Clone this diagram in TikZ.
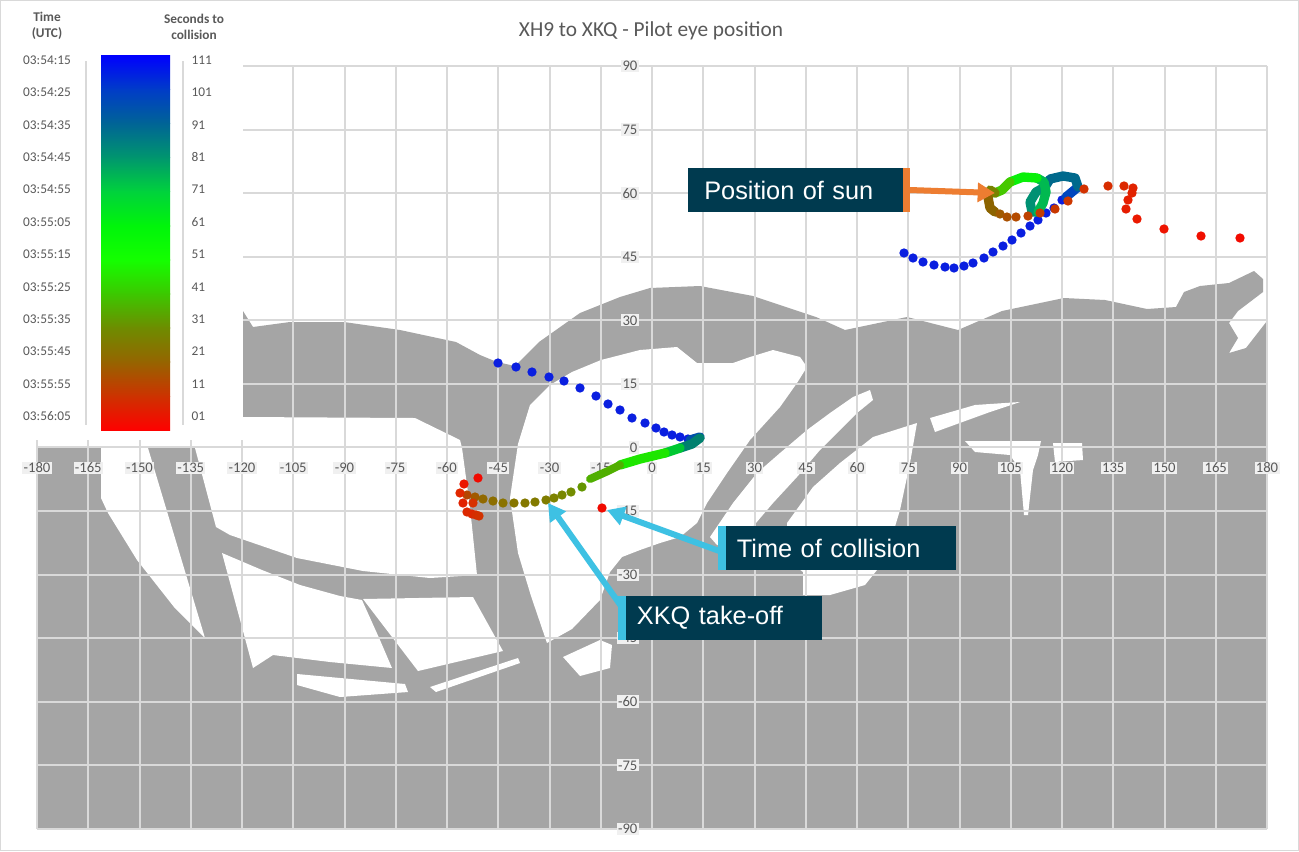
\documentclass[tikz,border=0pt]{standalone}
\usepackage{fontspec}
\setmainfont{Carlito}
\newfontfamily\arialf{Liberation Sans}
\usetikzlibrary{arrows.meta}
\definecolor{gry}{HTML}{A5A5A5}
\definecolor{grd}{HTML}{D9D9D9}
\definecolor{txt}{HTML}{595959}
\definecolor{boxc}{HTML}{003A4F}
\definecolor{cyanc}{HTML}{3EC1E3}
\definecolor{orc}{HTML}{ED7D31}
\definecolor{bl}{HTML}{0A1FE0}
\tikzset{
 hole/.style={fill=white},
 tick/.style={font=\fontsize{11}{12}\selectfont, text=txt, fill=white!94!black, inner sep=1pt},
 leg/.style={font=\fontsize{10}{11}\selectfont, text=txt},
 lbl/.style={fill=boxc, text=white, font=\arialf\fontsize{19}{21}\selectfont, anchor=west, minimum height=33pt, inner xsep=12pt, align=left},
 dot/.style={circle, inner sep=0pt, minimum size=7pt},
 thick track/.style={line width=7pt, line cap=round, line join=round},
 carrow/.style={draw=cyanc, line width=4.5pt, -{Triangle[length=13pt,width=14pt]}},
 oarrow/.style={draw=orc, line width=4.5pt, -{Triangle[length=13pt,width=14pt]}}
}
\begin{document}
\begin{tikzpicture}[x=0.75pt,y=-0.75pt]
\useasboundingbox (0,0) rectangle (1299,851);
\fill[white] (0,0) rectangle (1299,851);
% grey silhouette
\fill[gry] (243,311) -- (253,327) -- (290,322) -- (344,322) -- (400,330) -- (456,342) -- (480,355) -- (497,362) -- (515,366) -- (539,342) -- (580,313) -- (620,297) -- (650,288) -- (700,286) -- (753,296) -- (816,317) -- (845,330) -- (907,317) -- (958,330) -- (1002,311) -- (1064,298) -- (1105,300) -- (1147,309) -- (1176,307) -- (1184,292) -- (1200,286) -- (1229,283) -- (1254,271) -- (1263,279) -- (1263,292) -- (1238,311) -- (1229,323) -- (1238,338) -- (1229,353) -- (1246,348) -- (1267,321) -- (1267,829) -- (37,829) -- (37,448) -- (243,448) -- cycle;
% holes
\fill[hole] (243,417) -- (415,418) -- (460,440) -- (462,448) -- (243,448) -- cycle;
\fill[hole] (101,448) -- (148,448) -- (205,638) -- (174,607) -- (137,560) -- (108,513) -- (101,498) -- cycle;
\fill[hole] (195,448) -- (462,448) -- (470,507) -- (477,575) -- (430,578) -- (363,571) -- (297,558) -- (230,535) -- (216,527) -- cycle;
\fill[hole] (222,553) -- (262,570) -- (300,585) -- (340,596) -- (362,600) -- (380,640) -- (392,668) -- (330,662) -- (273,655) -- (253,668) -- cycle;
\fill[hole] (363,599) -- (473,597) -- (503,651) -- (418,671) -- cycle;
\fill[hole] (297,674) -- (405,684) -- (408,692) -- (340,697) -- (297,685) -- cycle;
\fill[hole] (430,687) -- (518,658) -- (520,663) -- (436,692) -- cycle;
\fill[hole] (563,657) -- (600,640) -- (612,645) -- (610,668) -- (580,676) -- cycle;
\fill[hole] (518,444) -- (530,405) -- (550,385) -- (572,372) -- (601,360) -- (640,350) -- (677,347) -- (697,363) -- (733,363) -- (750,357) -- (773,350) -- (800,357) -- (807,367) -- (797,383) -- (780,407) -- (750,440) -- (727,473) -- (707,503) -- (697,523) -- (680,537) -- (660,543) -- (640,550) -- (622,557) -- (610,572) -- (600,600) -- (572,629) -- (547,643) -- (531,596) -- (518,553) -- (510,498) -- cycle;
\fill[hole] (710,537) -- (733,503) -- (757,473) -- (780,453) -- (807,430) -- (830,413) -- (853,397) -- (870,390) -- (873,400) -- (857,413) -- (840,430) -- (820,450) -- (797,477) -- (773,503) -- (750,530) -- (730,547) -- (717,545) -- cycle;
\fill[hole] (787,523) -- (813,487) -- (840,463) -- (873,437) -- (917,423) -- (910,463) -- (900,510) -- (885,560) -- (865,585) -- (830,595) -- (803,595) -- (803,572) -- (787,560) -- cycle;
\fill[hole] (930,418) -- (975,405) -- (1020,402) -- (990,412) -- (935,432) -- cycle;
\fill[hole] (965,441) -- (1041,441) -- (1038,455) -- (1033,470) -- (1028,515) -- (1024,515) -- (1020,470) -- (1010,455) -- (975,452) -- cycle;
\fill[hole] (1053,443) -- (1082,443) -- (1083,460) -- (1055,462) -- cycle;
% grid
\foreach \i in {0,...,24} \draw[grd, line width=1.5] ({37+51.25*\i},66) -- ({37+51.25*\i},829);
\foreach \j in {0,...,12} \draw[grd, line width=1.5] (37,{66+63.58*\j}) -- (1267,{66+63.58*\j});
% tick labels
\foreach \v [count=\i from 0] in {-180,-165,-150,-135,-120,-105,-90,-75,-60,-45,-30,-15,0,15,30,45,60,75,90,105,120,135,150,165,180}
  \node[tick] (xt\i) at ({37+51.25*\i},468) {\v};
\foreach \v [count=\j from 0] in {90,75,60,45,30,15,0,-15,-30,-45,-60,-75,-90}
  \node[tick, anchor=east] (yt\j) at (639,{66+63.58*\j}) {\v};
% title
\node[text=txt, font=\fontsize{16}{18}\selectfont] (title) at (651,31) {XH9 to XKQ - Pilot eye position};
% left track
\foreach \x/\y [count=\k] in {498/363,516/367,532/372,549/377,564/381,580/388,596/396,608/404,620/410,632/418,645/423,656/428,664/432,672/435,680/437,688/439,694/440}
  \node[dot, fill=bl] (lb\k) at (\x,\y) {};
\draw[thick track, color={rgb,255:red,0;green,80;blue,170}] (690,440) -- (700,437);
\draw[thick track, color={rgb,255:red,0;green,128;blue,110}] (700,438) -- (692,444) -- (680,448);
\draw[thick track, color={rgb,255:red,0;green,200;blue,50}] (680,448) -- (665,453);
\draw[thick track, color={rgb,255:red,30;green,230;blue,0}] (665,453) -- (640,459) -- (620,465);
\draw[thick track, line width=6pt, color={rgb,255:red,80;green,175;blue,0}] (620,465) -- (608,471) -- (590,479);
\foreach \x/\y/\r/\g [count=\k] in {582/487/100/150,571/492/115/140,562/495/120/135,554/498/125/130,546/500/128/125,535/502/130/122,525/503/132/120,514/503/135/118,503/503/138/115,493/501/140/110,483/499/145/105,475/497/160/90,467/495/180/70}
  \node[dot, fill={rgb,255:red,\r;green,\g;blue,0}] (lo\k) at (\x,\y) {};
\foreach \x/\y/\r/\g [count=\k] in {464/484/235/20,478/478/240/10,460/493/225/40,463/503/225/35,473/503/215/50,467/512/220/40,472/514/220/40,476/515/215/45,479/516/210/50}
  \node[dot, fill={rgb,255:red,\r;green,\g;blue,0}] (lr\k) at (\x,\y) {};
\node[dot, fill={rgb,255:red,240;green,10;blue,0}] (coll) at (602,508) {};
% right track
\foreach \x/\y [count=\k] in {904/253,913/258,923/262,934/265,945/267,954/268,964/266,973/263,984/258,993/252,1003/246,1012/240,1021/233,1030/226,1038/220,1046/213,1054/208,1062/200}
  \node[dot, fill=bl] (rb\k) at (\x,\y) {};
\draw[thick track, color={rgb,255:red,0;green,70;blue,190}] (1066,197) -- (1078,187);
\draw[thick track, color={rgb,255:red,0;green,105;blue,140}] (1078,187) -- (1075,178) -- (1063,176) -- (1050,179) -- (1045,187);
\draw[thick track, color={rgb,255:red,0;green,145;blue,115}] (1045,187) -- (1036,192) -- (1030,202) -- (1032,212) -- (1038,212);
\draw[thick track, color={rgb,255:red,0;green,185;blue,80}] (1038,212) -- (1043,203) -- (1046,192) -- (1044,182) -- (1037,178);
\draw[thick track, color={rgb,255:red,10;green,240;blue,10}] (1037,178) -- (1023,177) -- (1010,182);
\draw[thick track, color={rgb,255:red,70;green,200;blue,0}] (1010,182) -- (1002,190) -- (995,193);
\draw[thick track, color={rgb,255:red,120;green,130;blue,0}] (995,193) -- (990,190) -- (988,197);
\draw[thick track, color={rgb,255:red,140;green,100;blue,0}] (988,197) -- (990,208) -- (995,212);
\foreach \x/\y/\r/\g [count=\k] in {1000/214/160/90,1007/217/170/80,1016/217/180/75,1028/216/190/65,1040/213/195/60,1055/209/200/55,1068/201/205/55,1084/189/210/50,1108/186/215/45,1124/186/220/40,1133/188/225/35,1132/193/225/35,1128/200/230/30,1126/209/230/28,1137/219/235/25,1164/229/238/20,1201/236/240/15,1240/238/242/10}
  \node[dot, fill={rgb,255:red,\r;green,\g;blue,0}] (ro\k) at (\x,\y) {};
% legend
\fill[white] (0,0) rectangle (243,440);
\node[leg, align=center, font=\bfseries\fontsize{10}{12}\selectfont] (lt1) at (47,26) {Time\\(UTC)};
\node[leg, align=center, font=\bfseries\fontsize{10}{12}\selectfont] (lt2) at (194,27) {Seconds to\\collision};
\draw[grd, line width=1.2] (86,61) -- (86,425);
\draw[grd, line width=1.2] (183,61) -- (183,425);
\foreach \ta/\tb/\na/\nb/\ra/\ga [count=\k from 0] in {
 0/0/255/0/60/200,
 0/60/200/0/100/150,
 0/100/150/0/150/110,
 0/150/110/0/210/60,
 0/210/60/0/245/10,
 0/245/10/20/255/0,
 20/255/0/60/200/0,
 60/200/0/110/140/0,
 110/140/0/150/100/0,
 150/100/0/205/50/0,
 205/50/0/255/0/0}{
 \shade[top color={rgb,255:red,\ta;green,\tb;blue,\na}, bottom color={rgb,255:red,\nb;green,\ra;blue,\ga}] (101,{55+34.1*\k}) rectangle (170,{55+34.1*(\k+1)+0.5});
}
\foreach \t/\s [count=\k from 0] in {03:54:15/111,03:54:25/101,03:54:35/91,03:54:45/81,03:54:55/71,03:55:05/61,03:55:15/51,03:55:25/41,03:55:35/31,03:55:45/21,03:55:55/11,03:56:05/01}{
 \node[leg] (tm\k) at (47,{60+32.4*\k}) {\t};
 \node[leg, anchor=west] (sc\k) at (187,{60+32.4*\k}) {\s};
}
% labels and arrows
\node[lbl, minimum width=162pt, text width=138pt] (sun) at (688,190) {Position of sun};
\fill[orc] (sun.north east) ++(-2,0) rectangle ([xshift=4]sun.south east);
\coordinate (suntip) at (995,193);
\draw[oarrow] ([xshift=4]sun.east) -- (suntip);
\node[lbl, minimum width=176pt, text width=150pt, inner xsep=14pt] (tc) at (718,548) {Time of collision};
\fill[cyanc] (tc.north west) rectangle ([xshift=6]tc.south west);
\coordinate (tctip) at (607,510);
\draw[carrow] ([xshift=3,yshift=-3]tc.west) -- (tctip);
\node[lbl, minimum width=151pt, text width=125pt, inner xsep=14pt] (xk) at (618,618) {XKQ take-off};
\fill[cyanc] (xk.north west) rectangle ([xshift=6]xk.south west);
\coordinate (xktip) at (548,503);
\draw[carrow] ([xshift=3,yshift=8]xk.west) -- (xktip);
% frame
\draw[grd, line width=1] (0.5,0.5) rectangle (1298.5,850.5);
\end{tikzpicture}
\end{document}
